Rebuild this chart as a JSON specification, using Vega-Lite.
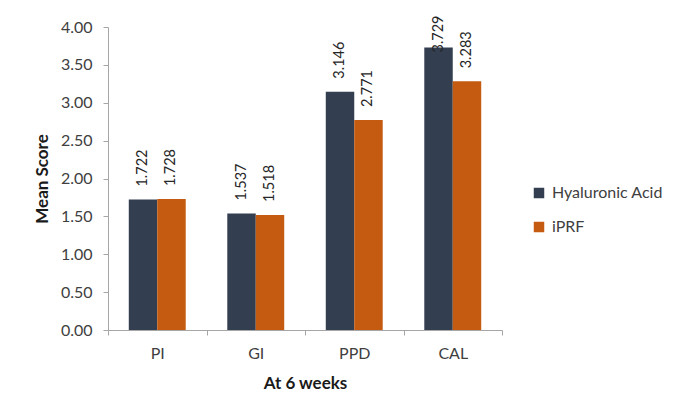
{
  "$schema": "https://vega.github.io/schema/vega-lite/v6.json",
  "autosize": "none",
  "width": 394,
  "height": 303,
  "padding": {"left": 108, "top": 27, "right": 178, "bottom": 85},
  "background": "white",
  "data": {
    "values": [
      {"index": "PI", "group": "Hyaluronic Acid", "score": 1.722},
      {"index": "PI", "group": "iPRF", "score": 1.728},
      {"index": "GI", "group": "Hyaluronic Acid", "score": 1.537},
      {"index": "GI", "group": "iPRF", "score": 1.518},
      {"index": "PPD", "group": "Hyaluronic Acid", "score": 3.146},
      {"index": "PPD", "group": "iPRF", "score": 2.771},
      {"index": "CAL", "group": "Hyaluronic Acid", "score": 3.729},
      {"index": "CAL", "group": "iPRF", "score": 3.283}
    ]
  },
  "encoding": {
    "x": {
      "field": "index",
      "type": "nominal",
      "sort": ["PI", "GI", "PPD", "CAL"],
      "scale": {"paddingInner": 0, "paddingOuter": 0},
      "axis": {
        "title": "At 6 weeks",
        "labelAngle": 0,
        "tickBand": "extent",
        "tickSize": 5,
        "labelPadding": 10,
        "titlePadding": 14
      }
    },
    "xOffset": {
      "field": "group",
      "type": "nominal",
      "scale": {"paddingInner": 0, "paddingOuter": 0.73}
    },
    "y": {
      "field": "score",
      "type": "quantitative",
      "scale": {"domain": [0, 4], "nice": false},
      "axis": {
        "title": "Mean Score",
        "values": [0, 0.5, 1, 1.5, 2, 2.5, 3, 3.5, 4],
        "format": ".2f",
        "grid": false,
        "tickSize": 5,
        "labelPadding": 11,
        "titlePadding": 9
      }
    }
  },
  "layer": [
    {
      "mark": {"type": "bar"},
      "encoding": {
        "color": {
          "field": "group",
          "type": "nominal",
          "scale": {"domain": ["Hyaluronic Acid", "iPRF"], "range": ["#333f50", "#c55a11"]},
          "legend": {
            "title": null,
            "orient": "none",
            "legendX": 423,
            "legendY": 158,
            "symbolType": "square",
            "symbolSize": 110,
            "symbolStrokeWidth": 0,
            "labelFontSize": 16,
            "labelColor": "#404040",
            "labelFont": "Lato",
            "rowPadding": 18,
            "labelOffset": 5
          }
        }
      }
    },
    {
      "transform": [{"filter": "datum.score < 3.7"}],
      "mark": {"type": "text", "angle": -90, "align": "left", "baseline": "middle", "dx": 13, "fontSize": 14.5, "font": "Lato", "color": "#262626"},
      "encoding": {"text": {"field": "score", "type": "quantitative", "format": ".3f"}}
    },
    {
      "transform": [{"filter": "datum.score >= 3.7"}],
      "mark": {"type": "text", "angle": -90, "align": "left", "baseline": "middle", "dx": -5, "fontSize": 14.5, "font": "Lato", "color": "#262626"},
      "encoding": {"text": {"field": "score", "type": "quantitative", "format": ".3f"}}
    }
  ],
  "config": {
    "view": {"stroke": null},
    "font": "Lato",
    "axis": {
      "domainColor": "#a6a6a6",
      "tickColor": "#a6a6a6",
      "labelColor": "#404040",
      "labelFontSize": 16,
      "labelFont": "Lato",
      "titleFont": "Lato",
      "titleFontSize": 17,
      "titleFontWeight": "bold",
      "titleColor": "#1a1a1a"
    }
  }
}
